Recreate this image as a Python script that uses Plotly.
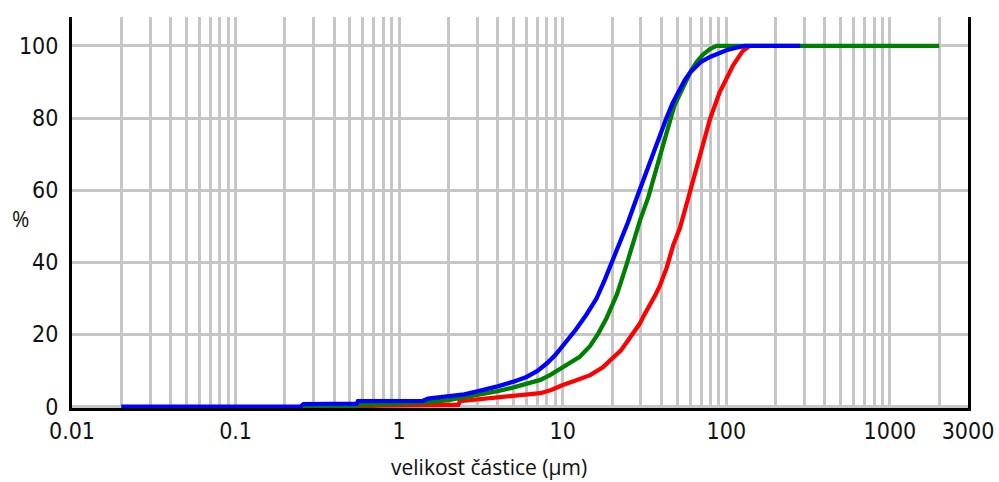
import plotly.graph_objects as go
import math

# ---- data (particle size in µm, cumulative %) ----
blue_x = [0.02, 0.25, 0.26, 0.55, 0.56, 1.4, 1.5, 2.0, 2.5, 3, 3.5, 4, 5, 6, 7, 8, 9, 10, 11.3, 12, 14, 16.1, 18, 20, 22, 25, 28.3,
          32, 36, 40, 43.2, 47, 51, 55.8, 60, 65, 70, 80, 90, 100, 115, 130, 283]
blue_y = [0, 0, 0.7, 0.8, 1.5, 1.6, 2.2, 2.8, 3.4, 4.2, 4.9, 5.6, 6.9, 8.2, 9.9, 12.0, 14.3, 16.8, 19.8, 21.3, 25.6, 30, 35, 40, 44.5, 51, 57.8,
          64.5, 71, 76.5, 80.2, 84.2, 87.5, 90.6, 92.6, 94.3, 95.6, 97.0, 98.0, 98.8, 99.5, 100, 100]

green_x = [0.25, 0.5, 0.55, 1.0, 1.5, 2.0, 3, 4, 5, 6, 7.3, 8.5, 10, 11.3, 12.7, 14.7, 16.5, 18.5, 21.4, 24.6, 27, 29.6, 33.3,
           37, 40, 42.5, 45.3, 48, 52, 57, 61, 65.8, 72, 79.4, 87, 2000]
green_y = [0, 0, 0.4, 0.8, 1.2, 1.8, 3.2, 4.3, 5.3, 6.3, 7.4, 8.9, 10.8, 12.2, 13.8, 16.8, 20.3, 24.5, 31, 39.5, 45.8, 51.5, 58,
           65.5, 71, 75.5, 80.2, 83.3, 86.6, 90.5, 93.2, 95.5, 97.6, 99.1, 100, 100]

red_x = [0.42, 0.6, 0.75, 1.17, 1.6, 2.3, 2.35, 3.6, 5, 6.2, 7.3, 8.5, 10, 12, 14.7, 17.5, 20.4, 22.6, 24.6, 27, 29.6, 31.1, 34,
         36.8, 39.3, 43.2, 47.3, 52, 57.6, 62.8, 70, 79.4, 91, 100, 110, 126, 139]
red_y = [0, 0, 0.3, 0.3, 0.4, 0.5, 1.5, 2.3, 2.8, 3.2, 3.7, 4.6, 6.0, 7.2, 8.7, 10.8, 13.4, 15.5, 17.8, 20.5, 23, 25, 28,
         30.9, 33.6, 38.5, 44.7, 49.5, 56.7, 63.1, 71, 79.7, 87.1, 91, 94.6, 98.6, 100]

x_tick_labels = {0.01: "0.01", 0.1: "0.1", 1: "1", 10: "10", 100: "100", 1000: "1000", 3000: "3000"}
y_ticks = [0, 20, 40, 60, 80, 100]

# grid positions: 1..9 x each decade, plus 3000 end label
x_ticks = []
for d in [0.01, 0.1, 1, 10, 100, 1000]:
    for k in range(1, 10):
        v = round(k * d, 6)
        if v <= 3000:
            x_ticks.append(v)
x_ticks.append(3000)
x_text = [x_tick_labels.get(v, "") for v in x_ticks]

fig = go.Figure()
for xs, ys, col in [(red_x, red_y, "#ff0000"), (green_x, green_y, "#008000"), (blue_x, blue_y, "#0000ff")]:
    fig.add_trace(go.Scatter(x=xs, y=ys, mode="lines", line=dict(color=col, width=4.3), showlegend=False, hoverinfo="skip"))

tick_font = dict(family="DejaVu Sans Condensed", size=23, color="#111111")
fig.update_layout(
    width=999, height=482,
    margin=dict(l=72, r=31, t=17, b=74, autoexpand=False),
    paper_bgcolor="white", plot_bgcolor="white",
    xaxis=dict(type="log", range=[-2, math.log10(3000)], tickvals=x_ticks, ticktext=x_text,
               showgrid=True, gridcolor="#c6c6c6", gridwidth=2.7, automargin=False,
               showline=True, linecolor="black", linewidth=3, ticks="", tickfont=tick_font,
               zeroline=False, layer="below traces"),
    yaxis=dict(range=[-0.4, 108], tickvals=y_ticks, showgrid=True, gridcolor="#c6c6c6", gridwidth=2.7,
               showline=True, mirror=True, linecolor="black", linewidth=3, ticks="", automargin=False,
               tickfont=tick_font, ticklabelstandoff=6, zeroline=False, layer="below traces"),
    annotations=[
        dict(text="%", xref="paper", yref="paper", x=-0.058, y=0.483, showarrow=False,
             font=dict(family="Open Sans", size=21, color="#111111"), xanchor="center", yanchor="middle"),
        dict(text="velikost částice (µm)", xref="paper", yref="paper", x=0.465, y=-0.151, showarrow=False,
             font=dict(family="Open Sans", size=21, color="#111111"), xanchor="center", yanchor="middle"),
    ],
)
fig.write_html("out.html")
